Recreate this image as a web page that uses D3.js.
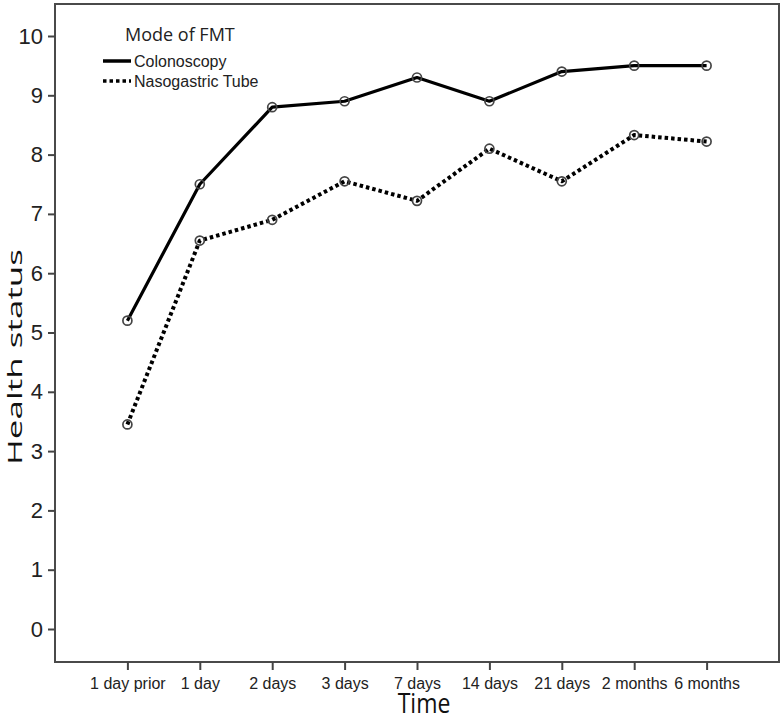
<!DOCTYPE html>
<html>
<head>
<meta charset="utf-8">
<script src="https://cdn.jsdelivr.net/npm/d3@7"></script>
<style>
  html, body { margin: 0; padding: 0; background: #fff; }
  svg { display: block; }
</style>
</head>
<body>
<div id="chart"></div>
<script>
// Health status by time point, two modes of FMT

const timePoints = ["1 day prior", "1 day", "2 days", "3 days", "7 days", "14 days", "21 days", "2 months", "6 months"];
const colonoscopy = [5.2, 7.5, 8.8, 8.9, 9.3, 8.9, 9.4, 9.5, 9.5];
const nasogastric = [3.45, 6.55, 6.9, 7.55, 7.22, 8.1, 7.55, 8.33, 8.22];
const yTicks = [0, 1, 2, 3, 4, 5, 6, 7, 8, 9, 10];
const seriesNames = ["Colonoscopy", "Nasogastric Tube"];

const width = 784;
const height = 721;
const margin = { top: 4, right: 5, bottom: 59, left: 55 };

const svg = d3.select("#chart")
  .append("svg")
  .attr("width", width)
  .attr("height", height);

const x = d3.scalePoint()
  .domain(timePoints)
  .range([margin.left, width - margin.right])
  .padding(1);

// 0 sits at y=629, 10 at y=36
const y = d3.scaleLinear()
  .domain([0, 10])
  .range([629, 36]);

const series = [
  { name: seriesNames[0], values: colonoscopy, dash: null, width: 3.2 },
  { name: seriesNames[1], values: nasogastric, dash: "3.5,3", width: 4 }
];

const line = d3.line()
  .x((d, i) => x(timePoints[i]))
  .y(d => y(d));

series.forEach(s => {
  svg.append("path")
    .attr("d", line(s.values))
    .attr("fill", "none")
    .attr("stroke", "#000")
    .attr("stroke-width", s.width)
    .attr("stroke-dasharray", s.dash)
    .attr("stroke-linejoin", "round");

  svg.append("g")
    .selectAll("circle")
    .data(s.values)
    .enter()
    .append("circle")
    .attr("cx", (d, i) => x(timePoints[i]))
    .attr("cy", d => y(d))
    .attr("r", 4.5)
    .attr("fill", "none")
    .attr("stroke", "#444")
    .attr("stroke-width", 1.7);
});

// frame
svg.append("rect")
  .attr("x", margin.left)
  .attr("y", margin.top)
  .attr("width", width - margin.left - margin.right)
  .attr("height", height - margin.top - margin.bottom)
  .attr("fill", "none")
  .attr("stroke", "#4a4a4a")
  .attr("stroke-width", 2);

// Y axis
const yAxis = svg.append("g")
  .attr("transform", `translate(${margin.left},0)`)
  .call(d3.axisLeft(y).tickValues(yTicks).tickSize(7).tickPadding(5).tickFormat(d3.format("d")));
yAxis.select(".domain").remove();
yAxis.selectAll("line").attr("stroke", "#444").attr("stroke-width", 2);
yAxis.selectAll("text")
  .attr("fill", "#222")
  .style("font-family", "'Liberation Sans', Arial, sans-serif")
  .style("font-size", "22px");

// X axis
const xAxis = svg.append("g")
  .attr("transform", `translate(0,${height - margin.bottom})`)
  .call(d3.axisBottom(x).tickSize(8).tickPadding(8));
xAxis.select(".domain").remove();
xAxis.selectAll("line").attr("stroke", "#444").attr("stroke-width", 2);
xAxis.selectAll("text")
  .attr("fill", "#222")
  .style("font-family", "'Liberation Sans', Arial, sans-serif")
  .style("font-size", "16px");

// axis titles (the source figure is stretched, so the titles are scaled)
svg.append("text")
  .attr("transform", "translate(424,713) scale(1,1.2)")
  .attr("text-anchor", "middle")
  .style("font-family", "'Open Sans', sans-serif")
  .style("font-size", "23px")
  .attr("fill", "#111")
  .text("Time");

svg.append("text")
  .attr("transform", "translate(22,357) rotate(-90) scale(1.75,1)")
  .attr("text-anchor", "middle")
  .style("font-family", "'Open Sans', sans-serif")
  .style("font-size", "20px")
  .attr("fill", "#111")
  .text("Health status");

// Legend
const legend = svg.append("g").attr("transform", "translate(103,0)");
legend.append("text")
  .attr("x", 22)
  .attr("y", 41)
  .style("font-family", "'Open Sans', sans-serif")
  .style("font-size", "18px")
  .attr("fill", "#222")
  .text("Mode of FMT");

series.forEach((s, i) => {
  const row = legend.append("g").attr("transform", `translate(0,${61 + i * 20})`);
  row.append("line")
    .attr("x1", 0)
    .attr("x2", 28)
    .attr("y1", 0)
    .attr("y2", 0)
    .attr("stroke", "#000")
    .attr("stroke-width", 3.5)
    .attr("stroke-dasharray", s.dash);
  row.append("text")
    .attr("x", 31)
    .attr("y", 6)
    .style("font-family", "'Liberation Sans', Arial, sans-serif")
    .style("font-size", "16px")
    .attr("fill", "#222")
    .text(s.name);
});
</script>
</body>
</html>
